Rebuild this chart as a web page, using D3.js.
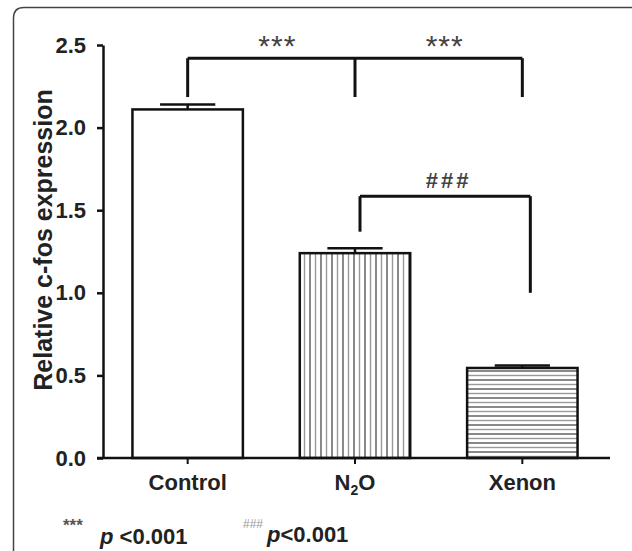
<!DOCTYPE html>
<html>
<head>
<meta charset="utf-8">
<script src="https://cdn.jsdelivr.net/npm/d3@7"></script>
<style>
  body { margin: 0; background: #fff; }
  text { font-family: "Liberation Sans", Arial, sans-serif; }
</style>
</head>
<body>
<div id="chart"></div>
<script>
const groups = ["Control", "N2O", "Xenon"];
const means = [2.11, 1.24, 0.545];
const errs = [0.03, 0.03, 0.015];
const yTicks = [0, 0.5, 1.0, 1.5, 2.0, 2.5];

// significance brackets (values in y units)
const starGroups = ["Control", "N2O", "Xenon"];
const starTop = 2.42;
const starLegEnds = [2.185, 2.185, 2.185];
const starLabels = ["***", "***"];
const hashGroups = ["N2O", "Xenon"];
const hashTop = 1.585;
const hashLegEnds = [1.37, 1.0];
const hashLabel = "###";

const w = 632, h = 551;
const m = {l: 104, r: 26, t: 45, b: 93};

const svg = d3.select("#chart").append("svg").attr("width", w).attr("height", h);

// panel frame
svg.append("path")
  .attr("d", "M13.5,551 L13.5,18 Q13.5,7.5 24,7.5 L632,7.5")
  .attr("fill", "none").attr("stroke", "#444").attr("stroke-width", 1.5);

const x = d3.scaleBand().domain(groups).range([m.l, w - m.r]).paddingInner(0.34).paddingOuter(0.17);
const y = d3.scaleLinear().domain([0, 2.5]).range([h - m.b, m.t]);
const cx = g => x(g) + x.bandwidth() / 2;

const defs = svg.append("defs");
const vp = defs.append("pattern").attr("id", "vert").attr("patternUnits", "userSpaceOnUse")
  .attr("width", 11).attr("height", 10);
vp.append("line").attr("x1", 2).attr("x2", 2).attr("y1", 0).attr("y2", 10).attr("stroke", "#555").attr("stroke-width", 1.4);
vp.append("line").attr("x1", 7.5).attr("x2", 7.5).attr("y1", 0).attr("y2", 10).attr("stroke", "#999").attr("stroke-width", 1.4);
const hp = defs.append("pattern").attr("id", "horiz").attr("patternUnits", "userSpaceOnUse")
  .attr("width", 10).attr("height", 9);
hp.append("line").attr("y1", 2).attr("y2", 2).attr("x1", 0).attr("x2", 10).attr("stroke", "#555").attr("stroke-width", 1.4);
hp.append("line").attr("y1", 6.5).attr("y2", 6.5).attr("x1", 0).attr("x2", 10).attr("stroke", "#999").attr("stroke-width", 1.4);

const fills = ["#fff", "url(#vert)", "url(#horiz)"];

// bars
svg.append("g").selectAll("rect")
  .data(groups)
  .join("rect")
  .attr("x", d => x(d))
  .attr("y", (d, i) => y(means[i]))
  .attr("width", x.bandwidth())
  .attr("height", (d, i) => y(0) - y(means[i]))
  .attr("fill", (d, i) => fills[i])
  .attr("stroke", "#111")
  .attr("stroke-width", 2.5);

// error bars
const eb = svg.append("g").attr("stroke", "#111").attr("stroke-width", 2.5);
groups.forEach((g, i) => {
  eb.append("line").attr("x1", cx(g)).attr("x2", cx(g)).attr("y1", y(means[i])).attr("y2", y(means[i] + errs[i]));
  eb.append("line").attr("x1", cx(g) - x.bandwidth() / 4).attr("x2", cx(g) + x.bandwidth() / 4)
    .attr("y1", y(means[i] + errs[i])).attr("y2", y(means[i] + errs[i]));
});

// y axis
const yAxis = svg.append("g").attr("transform", `translate(${m.l - 1},0)`)
  .call(d3.axisLeft(y).tickValues(yTicks).tickFormat(d3.format(".1f")).tickSize(6).tickPadding(11).tickSizeOuter(0));
yAxis.select(".domain").attr("stroke", "#111").attr("stroke-width", 2.5);
yAxis.selectAll(".tick line").attr("stroke", "#111").attr("stroke-width", 2.5);
yAxis.selectAll(".tick text").attr("font-size", 22).attr("font-weight", "bold").attr("fill", "#222")
  .attr("font-family", "'Liberation Sans', Arial, sans-serif");

// x axis
const xAxis = svg.append("g").attr("transform", `translate(0,${y(0)})`)
  .call(d3.axisBottom(x).tickSize(6).tickPadding(10));
xAxis.select(".domain").remove();
xAxis.append("line").attr("x1", m.l - 7).attr("x2", x.range()[1] + 4).attr("y1", 0).attr("y2", 0)
  .attr("stroke", "#111").attr("stroke-width", 2.5);
xAxis.selectAll(".tick line").attr("stroke", "#111").attr("stroke-width", 2);
xAxis.selectAll(".tick text").attr("font-size", 22).attr("font-weight", "bold").attr("fill", "#222")
  .attr("font-family", "'Liberation Sans', Arial, sans-serif")
  .each(function(d) {
    if (d === "N2O") {
      const t = d3.select(this).text("");
      t.append("tspan").text("N");
      t.append("tspan").text("2").attr("font-size", 14).attr("dy", 5);
      t.append("tspan").text("O").attr("dy", -5);
    }
  });

// y title
svg.append("text")
  .attr("transform", `translate(52,240) rotate(-90)`)
  .attr("text-anchor", "middle")
  .attr("font-size", 25).attr("font-weight", "bold").attr("fill", "#222")
  .text("Relative c-fos expression");

// brackets
const br = svg.append("g").attr("stroke", "#111").attr("stroke-width", 3).attr("fill", "none");
br.append("line").attr("x1", cx(starGroups[0])).attr("x2", cx(starGroups[2])).attr("y1", y(starTop)).attr("y2", y(starTop));
starGroups.forEach((g, i) => {
  br.append("line").attr("x1", cx(g)).attr("x2", cx(g)).attr("y1", y(starTop)).attr("y2", y(starLegEnds[i]));
});
br.append("line").attr("x1", cx(hashGroups[0]) + 5).attr("x2", cx(hashGroups[1]) + 8).attr("y1", y(hashTop)).attr("y2", y(hashTop));
hashGroups.forEach((g, i) => {
  const off = i === 0 ? 5 : 8;
  br.append("line").attr("x1", cx(g) + off).attr("x2", cx(g) + off).attr("y1", y(hashTop)).attr("y2", y(hashLegEnds[i]));
});

starLabels.forEach((s, i) => {
  svg.append("text")
    .attr("x", (cx(starGroups[i]) + cx(starGroups[i + 1])) / 2 + 6)
    .attr("y", y(starTop) - 2)
    .attr("text-anchor", "middle")
    .attr("font-size", 30).attr("letter-spacing", 1).attr("fill", "#444")
    .text(s);
});
svg.append("text")
  .attr("x", (cx(hashGroups[0]) + cx(hashGroups[1])) / 2 + 10)
  .attr("y", y(hashTop) - 8)
  .attr("text-anchor", "middle")
  .attr("font-size", 22).attr("font-weight", "bold").attr("letter-spacing", 3).attr("fill", "#444")
  .text(hashLabel);

// footnote
const fn = svg.append("g").attr("font-family", "'Liberation Sans', Arial, sans-serif");
fn.append("text").attr("x", 63).attr("y", 531).attr("font-size", 17).attr("font-weight", "bold").attr("fill", "#555").text("***");
const f1 = fn.append("text").attr("x", 100).attr("y", 544).attr("font-size", 22).attr("font-weight", "bold").attr("fill", "#222");
f1.append("tspan").attr("font-style", "italic").text("p");
f1.append("tspan").text(" <0.001");
fn.append("text").attr("x", 243).attr("y", 528).attr("font-size", 12).attr("fill", "#999").text("###");
const f2 = fn.append("text").attr("x", 267).attr("y", 542).attr("font-size", 22).attr("font-weight", "bold").attr("fill", "#222");
f2.append("tspan").attr("font-style", "italic").text("p");
f2.append("tspan").text("<0.001");
</script>
</body>
</html>
